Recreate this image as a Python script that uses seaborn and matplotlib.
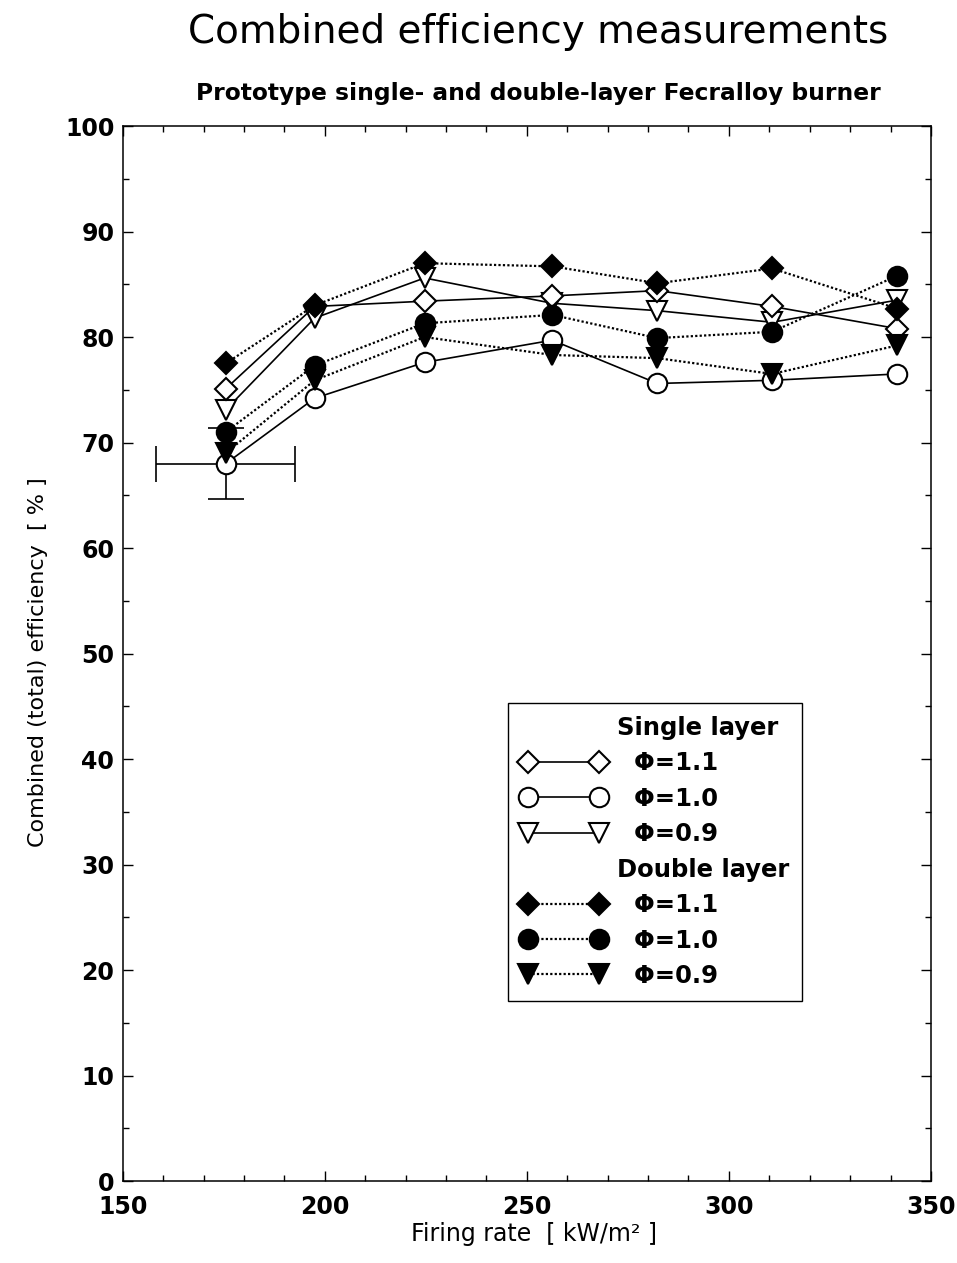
import pandas as pd
import seaborn as sns
import matplotlib.pyplot as plt
from matplotlib.lines import Line2D
from matplotlib.ticker import MultipleLocator

sns.set_style('ticks')
plt.rcParams['font.family'] = ['DejaVu Sans']
plt.rcParams['text.color'] = 'black'
plt.rcParams['axes.labelcolor'] = 'black'
plt.rcParams['xtick.color'] = 'black'
plt.rcParams['ytick.color'] = 'black'
plt.rcParams['axes.edgecolor'] = 'black'

# data
firing_rate = [175.5, 197.5, 224.7, 256.3, 282.3, 310.7, 341.6]

single_11 = [75.1, 82.9, 83.4, 83.9, 84.4, 82.9, 80.8]
single_10 = [68.0, 74.2, 77.6, 79.7, 75.6, 75.9, 76.5]
single_09 = [73.1, 81.8, 85.6, 83.2, 82.5, 81.4, 83.5]
double_11 = [77.5, 83.0, 87.0, 86.7, 85.1, 86.5, 82.7]
double_10 = [71.0, 77.3, 81.3, 82.1, 79.9, 80.5, 85.8]
double_09 = [69.0, 75.9, 80.0, 78.3, 78.0, 76.5, 79.2]

# error bar on first single-layer phi=1.0 point
err_x = 17.2
err_y = 3.35

series = [
    ('single', '0.9', single_09, 'v'),
    ('single', '1.0', single_10, 'o'),
    ('single', '1.1', single_11, 'D'),
    ('double', '0.9', double_09, 'v'),
    ('double', '1.0', double_10, 'o'),
    ('double', '1.1', double_11, 'D'),
]

rows = []
for layer, phi, vals, _ in series:
    for x, v in zip(firing_rate, vals):
        rows.append({'layer': layer, 'phi': phi, 'rate': x, 'eff': v})
df = pd.DataFrame(rows)

msize = {'v': 15, 'o': 14, 'D': 11}

fig = plt.figure(figsize=(9.57, 12.63), dpi=100)
ax = fig.add_axes([0.1282, 0.0649, 0.8446, 0.8353])

handles = {}
for layer, phi, vals, mk in series:
    sub = df[(df['layer'] == layer) & (df['phi'] == phi)]
    if layer == 'single':
        style = dict(linestyle='-', linewidth=1.2, markerfacecolor='white')
    else:
        style = dict(linestyle=(0, (1, 1)), linewidth=1.6, markerfacecolor='black')
    sns.lineplot(data=sub, x='rate', y='eff', color='black', marker=mk,
                 markersize=msize[mk], markeredgecolor='black', markeredgewidth=1.5,
                 ax=ax, legend=False, **style)
    handles[(layer, phi)] = Line2D([], [], color='black', marker=mk,
                                   markersize=msize[mk], markeredgecolor='black',
                                   markeredgewidth=1.5, **style)

ax.errorbar(firing_rate[0], single_10[0], xerr=err_x, yerr=err_y, fmt='none',
            ecolor='black', elinewidth=1.2, capsize=13, capthick=1.2, zorder=1)

ax.set_xlim(150, 350)
ax.set_ylim(0, 100)
ax.xaxis.set_major_locator(MultipleLocator(50))
ax.xaxis.set_minor_locator(MultipleLocator(10))
ax.yaxis.set_major_locator(MultipleLocator(10))
ax.yaxis.set_minor_locator(MultipleLocator(5))
ax.tick_params(which='both', direction='in', top=True, right=True, width=1)
ax.tick_params(which='major', length=7, labelsize=17)
ax.tick_params(which='minor', length=4)
ax.tick_params(axis='y', pad=6)
ax.tick_params(axis='x', pad=10)
for lab in ax.get_xticklabels() + ax.get_yticklabels():
    lab.set_fontweight('bold')
for sp in ax.spines.values():
    sp.set_linewidth(1.1)

ax.set_xlabel('Firing rate  [ kW/m² ]', fontsize=17)
ax.set_ylabel('Combined (total) efficiency  [ % ]', fontsize=16)
ax.xaxis.set_label_coords(0.509, -0.039)
ax.yaxis.set_label_coords(-0.092, 0.492)

fig.text(0.562, 0.9747, 'Combined efficiency measurements', ha='center', va='center',
         fontsize=28)
fig.text(0.5625, 0.926, 'Prototype single- and double-layer Fecralloy burner',
         ha='center', va='center', fontsize=16.8, fontweight='bold')

blank = Line2D([], [], linestyle='none', marker=None)
leg_handles = [blank,
               handles[('single', '1.1')], handles[('single', '1.0')], handles[('single', '0.9')],
               blank,
               handles[('double', '1.1')], handles[('double', '1.0')], handles[('double', '0.9')]]
leg_labels = ['Single layer', '  Φ=1.1', '  Φ=1.0', '  Φ=0.9',
              'Double layer', '  Φ=1.1', '  Φ=1.0', '  Φ=0.9']
leg = ax.legend(leg_handles, leg_labels, loc='upper left', bbox_to_anchor=(0.4767, 0.453),
                borderaxespad=0, numpoints=2, handlelength=3.5, handletextpad=0.45,
                borderpad=0.53, labelspacing=0.47, fancybox=False, framealpha=1,
                edgecolor='black', prop={'size': 17.5, 'weight': 'bold'})
leg.get_frame().set_linewidth(1.0)

fig.savefig('out.png', dpi=100)
